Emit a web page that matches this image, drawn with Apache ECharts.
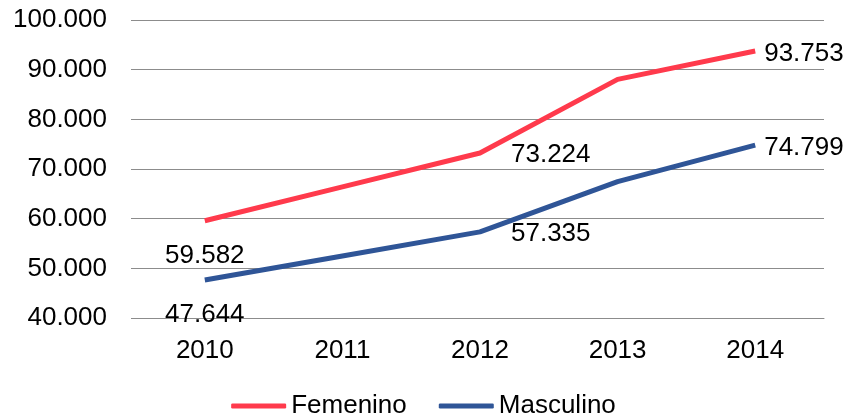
<!DOCTYPE html>
<html>
<head>
<meta charset="utf-8">
<script src="https://cdn.jsdelivr.net/npm/echarts@6/dist/echarts.min.js"></script>
<style>
  html, body { margin: 0; padding: 0; background: #fff; }
  #chart { width: 847px; height: 416px; }
</style>
</head>
<body>
<div id="chart"></div>
<script>
const years = ["2010", "2011", "2012", "2013", "2014"];
const femenino = [59582, 66400, 73224, 88050, 93753];
const masculino = [47644, 52500, 57335, 67450, 74799];
const yTicks = [40000, 50000, 60000, 70000, 80000, 90000, 100000];

const FONT = "Liberation Sans, Arial, sans-serif";
const FS = 26;

// which points carry a value label, and where it sits
const labelPlacement = {
  0: { position: "bottom", distance: 22 },
  2: { position: "right", distance: 31, offset: [0, 2] },
  4: { position: "right", distance: 9, offset: [0, 3] },
};

const fmt = (v) => v.toLocaleString("de-DE");

function withLabels(values) {
  return values.map((v, i) => {
    const p = labelPlacement[i];
    if (!p) return { value: v, label: { show: false } };
    return {
      value: v,
      label: {
        show: true,
        position: p.position,
        distance: p.distance,
        offset: p.offset || [0, 0],
        formatter: (d) => fmt(d.value),
        color: "#000",
        fontSize: FS,
        fontFamily: FONT,
      },
    };
  });
}

const chart = echarts.init(document.getElementById("chart"), null, { renderer: "canvas" });

chart.setOption({
  animation: false,
  backgroundColor: "#fff",
  grid: { left: 136, right: 23, top: 20, bottom: 98, containLabel: false },
  legend: {
    top: 388,
    left: "center",
    icon: "roundRect",
    itemWidth: 55,
    itemHeight: 5,
    itemGap: 32,
    textStyle: { fontSize: FS, fontFamily: FONT, color: "#000" },
    data: ["Femenino", "Masculino"],
  },
  xAxis: {
    type: "category",
    data: years,
    boundaryGap: true,
    axisLine: { show: true, lineStyle: { color: "#8c8c8c", width: 1 } },
    axisTick: { show: false },
    axisLabel: { margin: 20, fontSize: FS, fontFamily: FONT, color: "#000" },
  },
  yAxis: {
    type: "value",
    min: yTicks[0],
    max: yTicks[yTicks.length - 1],
    interval: 10000,
    axisLine: { show: false },
    axisTick: { show: true, length: 5, lineStyle: { color: "#8c8c8c" } },
    splitLine: { show: true, lineStyle: { color: "#8c8c8c", width: 1 } },
    axisLabel: {
      margin: 29,
      fontSize: FS,
      fontFamily: FONT,
      color: "#000",
      formatter: (v) => fmt(v),
    },
  },
  series: [
    {
      name: "Femenino",
      type: "line",
      data: withLabels(femenino),
      symbol: "circle",
      symbolSize: 0,
      showSymbol: true,
      lineStyle: { color: "#FF3A4C", width: 5 },
      itemStyle: { color: "#FF3A4C" },
    },
    {
      name: "Masculino",
      type: "line",
      data: withLabels(masculino),
      symbol: "circle",
      symbolSize: 0,
      showSymbol: true,
      lineStyle: { color: "#2F5597", width: 5 },
      itemStyle: { color: "#2F5597" },
    },
  ],
});
</script>
</body>
</html>
